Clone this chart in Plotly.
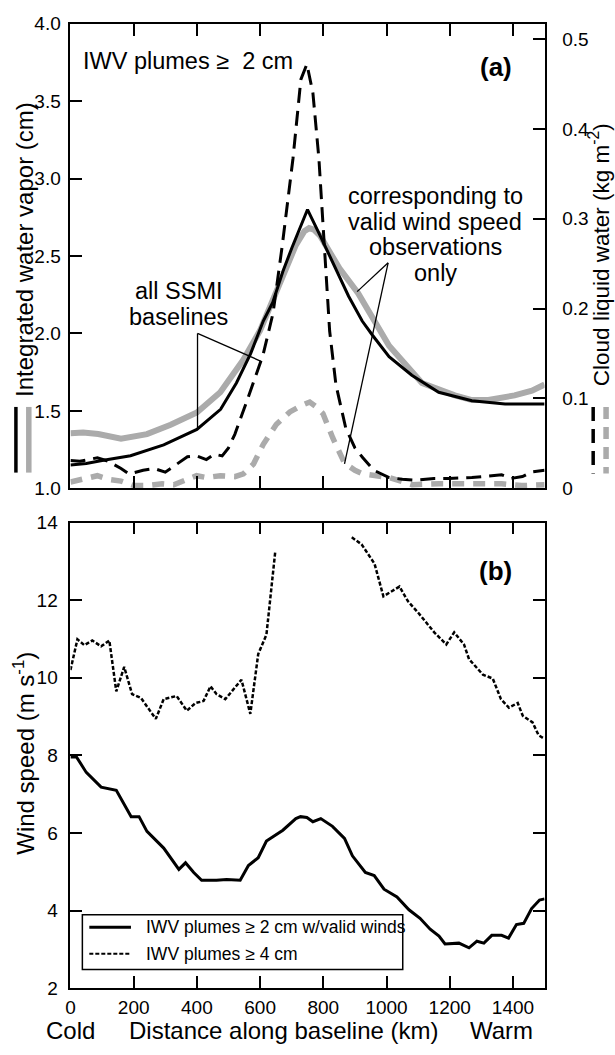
import plotly.graph_objects as go

# ---------------- DATA ----------------
# Panel (a): Integrated water vapor (cm), all SSMI baselines (solid black)
iwv_all_km = [0, 50, 100, 190, 295, 400, 475, 525, 570, 610, 640, 672, 700, 726, 750, 788, 830,
              880, 923, 955, 1008, 1080, 1165, 1270, 1375, 1500]
iwv_all = [1.15, 1.16, 1.18, 1.21, 1.28, 1.38, 1.51, 1.68, 1.87, 2.08, 2.20, 2.40, 2.55, 2.68, 2.80,
           2.64, 2.46, 2.24, 2.08, 1.99, 1.85, 1.73, 1.62, 1.565, 1.545, 1.545]

# IWV, only baselines with valid wind speed (grey thick)
iwv_valid_km = [0, 40, 88, 160, 242, 317, 400, 474, 547, 600, 635, 672, 713, 740, 755, 770, 790,
                851, 910, 1008, 1112, 1216, 1270, 1322, 1405, 1460, 1500]
iwv_valid = [1.355, 1.36, 1.35, 1.32, 1.35, 1.41, 1.49, 1.62, 1.83, 2.02, 2.19, 2.36, 2.57, 2.66,
             2.68, 2.67, 2.63, 2.42, 2.26, 1.92, 1.68, 1.60, 1.57, 1.57, 1.60, 1.63, 1.67]

# Cloud liquid water (kg m-2), all baselines (dashed black)
clw_all_km = [0, 30, 85, 120, 160, 185, 230, 265, 300, 330, 370, 400, 430, 455, 480, 500, 520, 557,
              609, 641, 670, 704, 729, 748, 767, 786, 805, 820, 840, 871, 900, 925, 960, 1008, 1050,
              1091, 1150, 1197, 1270, 1330, 1364, 1395, 1430, 1458, 1500]
clw_all = [0.031, 0.030, 0.034, 0.030, 0.022, 0.016, 0.020, 0.022, 0.018, 0.025, 0.035, 0.036, 0.032,
           0.038, 0.036, 0.045, 0.060, 0.096, 0.148, 0.195, 0.270, 0.367, 0.455, 0.472, 0.440, 0.367,
           0.260, 0.175, 0.115, 0.067, 0.045, 0.034, 0.020, 0.012, 0.010, 0.009, 0.011, 0.011, 0.012,
           0.014, 0.015, 0.011, 0.013, 0.018, 0.020]

# Cloud liquid water, valid wind baselines only (dashed grey)
clw_valid_km = [0, 40, 85, 120, 160, 200, 242, 290, 327, 370, 399, 430, 474, 520, 547, 579, 610, 651,
                694, 730, 757, 780, 799, 830, 867, 900, 925, 1008, 1081, 1166, 1270, 1364, 1427, 1490,
                1500]
clw_valid = [0.007, 0.010, 0.014, 0.010, 0.008, 0.003, 0.003, 0.005, 0.004, 0.010, 0.014, 0.012, 0.014,
             0.013, 0.016, 0.027, 0.049, 0.071, 0.085, 0.092, 0.096, 0.090, 0.083, 0.056, 0.028, 0.020,
             0.016, 0.012, 0.004, 0.005, 0.005, 0.005, 0.003, 0.003, 0.004]

# Panel (b): wind speed (m s-1)
wind2_km = [0, 19, 50, 97, 145, 192, 217, 242, 295, 327, 343, 364, 390, 415, 462, 494, 537, 563, 594,
            620, 672, 713, 728, 748, 767, 792, 829, 867, 892, 933, 961, 992, 1033, 1071, 1106, 1138,
            1166, 1185, 1229, 1261, 1286, 1308, 1333, 1364, 1386, 1411, 1434, 1459, 1484, 1500]
wind2 = [7.96, 7.96, 7.56, 7.18, 7.10, 6.42, 6.42, 6.04, 5.61, 5.23, 5.06, 5.23, 4.98, 4.78, 4.78,
         4.80, 4.78, 5.16, 5.36, 5.79, 6.07, 6.37, 6.42, 6.40, 6.29, 6.37, 6.17, 5.86, 5.41, 4.98,
         4.90, 4.55, 4.35, 4.02, 3.80, 3.52, 3.34, 3.14, 3.16, 3.04, 3.21, 3.16, 3.36, 3.36, 3.29,
         3.64, 3.67, 4.05, 4.27, 4.30]

wind4_km = [0, 22, 44, 69, 97, 123, 145, 170, 195, 223, 270, 295, 336, 368, 396, 421, 443, 462, 490,
            516, 541, 569, 594, 620, 648, 760, 890, 921, 962, 990, 1041, 1068, 1101, 1132, 1151, 1189,
            1214, 1245, 1261, 1305, 1336, 1362, 1387, 1415, 1431, 1462, 1481, 1495]
wind4 = [10.2, 10.99, 10.84, 10.96, 10.81, 10.96, 9.65, 10.28, 9.58, 9.48, 8.94, 9.45, 9.53, 9.15,
         9.35, 9.40, 9.78, 9.58, 9.45, 9.70, 9.95, 9.07, 10.61, 11.11, 13.26, None, 13.62, 13.44,
         12.94, 12.10, 12.35, 11.97, 11.67, 11.37, 11.17, 10.86, 11.17, 10.86, 10.48, 10.08, 9.98,
         9.45, 9.23, 9.35, 9.02, 8.85, 8.52, 8.45]

legend_labels = ["IWV plumes \u2265 2 cm w/valid winds", "IWV plumes \u2265 4 cm"]

x_ticks = [0, 200, 400, 600, 800, 1000, 1200, 1400]
iwv_ticks = [1.0, 1.5, 2.0, 2.5, 3.0, 3.5, 4.0]
clw_ticks = [0, 0.1, 0.2, 0.3, 0.4, 0.5]
clw_ticktext = ["0", "0.1", "0.2", "0.3", "0.4", "0.5"]
wind_ticks = [2, 4, 6, 8, 10, 12, 14]

# ---------------- FIGURE ----------------
W, H = 615, 1055
FONT = "Liberation Sans, Arial, sans-serif"
GREY = "#ababab"
SOLID2 = dict(color="black", width=3)
DASH4 = dict(color="black", width=2.5, dash="4px,2px")


def px(x):
    return x / W


def py(y):
    return 1 - y / H


fig = go.Figure()

fig.add_trace(go.Scatter(x=iwv_valid_km, y=iwv_valid, mode="lines", xaxis="x", yaxis="y",
                         line=dict(color=GREY, width=6), showlegend=False))
fig.add_trace(go.Scatter(x=iwv_all_km, y=iwv_all, mode="lines", xaxis="x", yaxis="y",
                         line=dict(color="black", width=3), showlegend=False))
fig.add_trace(go.Scatter(x=clw_valid_km, y=clw_valid, mode="lines", xaxis="x", yaxis="y3",
                         line=dict(color=GREY, width=5.5, dash="12px,9px"), showlegend=False))
fig.add_trace(go.Scatter(x=clw_all_km, y=clw_all, mode="lines", xaxis="x", yaxis="y3",
                         line=dict(color="black", width=3, dash="15px,8px"), showlegend=False))

fig.add_trace(go.Scatter(x=wind2_km, y=wind2, mode="lines", xaxis="x2", yaxis="y2",
                         line=SOLID2, name=legend_labels[0], showlegend=False))
fig.add_trace(go.Scatter(x=wind4_km, y=wind4, mode="lines", xaxis="x2", yaxis="y2",
                         line=DASH4, connectgaps=False, name=legend_labels[1], showlegend=False))

axis_common = dict(showline=True, linecolor="black", linewidth=1.8, ticks="inside", ticklen=12,
                   tickwidth=1.5, tickcolor="black", showgrid=False, zeroline=False,
                   tickfont=dict(family=FONT, size=19, color="black"))

xdom = [px(66), px(544)]
fig.update_layout(
    width=W, height=H,
    margin=dict(l=0, r=0, t=0, b=0),
    paper_bgcolor="white", plot_bgcolor="white",
    font=dict(family=FONT, color="black"),
    showlegend=False,
    xaxis=dict(domain=xdom, anchor="y", range=[0, 1500], tickvals=x_ticks, showticklabels=False,
               mirror="ticks", **axis_common),
    yaxis=dict(domain=[py(488), py(14)], anchor="x", range=[1.0, 4.0], tickvals=iwv_ticks,
               tickformat=".1f", ticklabelstandoff=4, **axis_common),
    yaxis3=dict(overlaying="y", side="right", anchor="x", range=[0, 0.517], tickvals=clw_ticks,
                ticktext=clw_ticktext, ticklabelstandoff=12, **axis_common),
    xaxis2=dict(domain=xdom, anchor="y2", range=[0, 1500], tickvals=x_ticks, mirror="ticks",
                ticklabelstandoff=1, **axis_common),
    yaxis2=dict(domain=[py(998), py(523)], anchor="x2", range=[2, 14], tickvals=wind_ticks,
                mirror="ticks", ticklabelstandoff=7, **axis_common),
)

ann = []


def text(x, y, s, size=23.5, anchor="center", bold=False, angle=0):
    ann.append(dict(x=px(x), y=py(y), xref="paper", yref="paper", text=("<b>%s</b>" % s) if bold else s,
                    showarrow=False, xanchor=anchor, yanchor="middle", textangle=angle,
                    font=dict(family=FONT, size=size, color="black")))


# axis titles
text(19, 244, "Integrated water vapor (cm)", size=24, angle=-90)
text(599, 250, "Cloud liquid water (kg m<sup>-2</sup>)", size=22.5, angle=-90)
text(19, 758, "Wind speed (m s<sup>-1</sup>)", size=24, angle=-90)
text(66, 1041, "Cold", size=24)
text(281, 1041, "Distance along baseline (km)", size=24)
text(501, 1041, "Warm", size=24)

# panel text
text(77, 52, "IWV plumes \u2265  2 cm", anchor="left")
text(513, 58, "(a)", size=26, anchor="right", bold=True)
text(513, 572, "(b)", size=26, anchor="right", bold=True)
for i, s in enumerate(["corresponding to", "valid wind speed", "observations", "only"]):
    text(434, 190 + 26 * i, s)
for i, s in enumerate(["all SSMI", "baselines"]):
    text(175, 287 + 26 * i, s)

# legend text
text(140, 936, legend_labels[0], size=17.5, anchor="left")
text(140, 963, legend_labels[1], size=17.5, anchor="left")

fig.update_layout(annotations=ann)

shapes = []
# leader lines (data coordinates of panel a)
for (x0, y0, x1, y1) in [(402, 2.0, 402, 1.386), (402, 2.0, 603, 1.82),
                         (1005, 2.456, 907, 2.27), (1005, 2.456, 867, 1.158)]:
    shapes.append(dict(type="line", xref="x", yref="y", x0=x0, y0=y0, x1=x1, y1=y1,
                       line=dict(color="black", width=1.3)))
# line-style keys next to the axis titles
shapes.append(dict(type="line", xref="paper", yref="paper", x0=px(11), x1=px(11), y0=py(405), y1=py(472),
                   line=dict(color="black", width=3.5)))
shapes.append(dict(type="line", xref="paper", yref="paper", x0=px(24), x1=px(24), y0=py(405), y1=py(472),
                   line=dict(color=GREY, width=5.5)))
shapes.append(dict(type="line", xref="paper", yref="paper", x0=px(593), x1=px(593), y0=py(405), y1=py(473),
                   line=dict(color="black", width=3.5, dash="14px,8px")))
shapes.append(dict(type="line", xref="paper", yref="paper", x0=px(606), x1=px(606), y0=py(405), y1=py(473),
                   line=dict(color=GREY, width=5.5, dash="12px,8px")))
# legend box and line samples (panel b)
shapes.append(dict(type="rect", xref="paper", yref="paper", x0=px(78), x1=px(401), y0=py(979), y1=py(923),
                   line=dict(color="black", width=1.5), fillcolor="white", layer="above"))
shapes.append(dict(type="line", xref="paper", yref="paper", x0=px(85), x1=px(127), y0=py(936), y1=py(936),
                   line=SOLID2))
shapes.append(dict(type="line", xref="paper", yref="paper", x0=px(85), x1=px(127), y0=py(963), y1=py(963),
                   line=dict(color="black", width=2, dash="4px,2px")))
fig.update_layout(shapes=shapes)

fig.write_html("out.html")
